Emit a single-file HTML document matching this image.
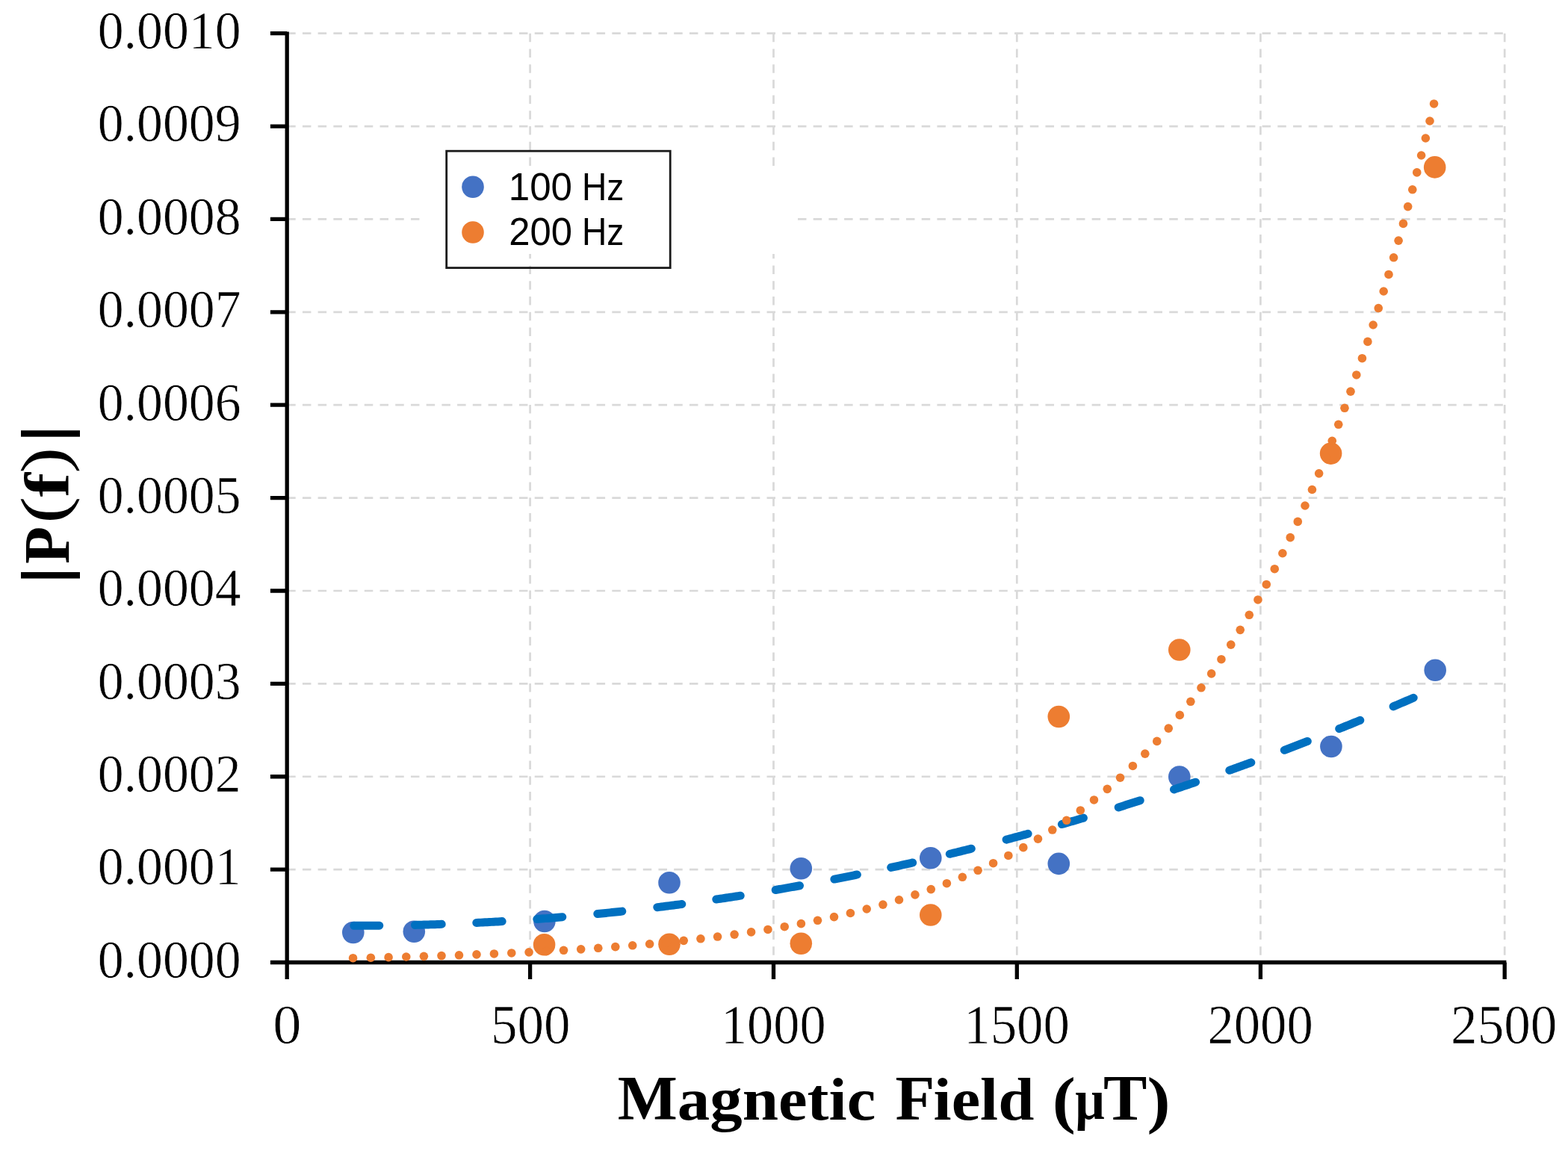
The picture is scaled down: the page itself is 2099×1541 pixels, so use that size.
<!DOCTYPE html><html><head><meta charset="utf-8"><title>Magnetic Field chart</title><style>html,body{margin:0;padding:0;background:#fff;}body{width:2099px;height:1541px;overflow:hidden;}svg{display:block;}.thin{stroke:#fff;stroke-width:0.7px;}</style></head><body>
<svg width="2099" height="1541" viewBox="0 0 2099 1541">
<rect x="0" y="0" width="2099" height="1541" fill="#fff"/>
<path d="M384.20 1164.12H2014.20 M384.20 1039.74H2014.20 M384.20 915.36H2014.20 M384.20 790.98H2014.20 M384.20 666.60H2014.20 M384.20 542.22H2014.20 M384.20 417.84H2014.20 M384.20 293.46H2014.20 M384.20 169.08H2014.20 M384.20 44.70H2014.20" stroke="#d9d9d9" stroke-width="2.7" stroke-dasharray="11.5 9.22" fill="none"/>
<path d="M709.60 44.70V1288.50 M1035.50 44.70V1288.50 M1361.30 44.70V1288.50 M1687.40 44.70V1288.50 M2014.20 44.70V1288.50" stroke="#d9d9d9" stroke-width="2.7" stroke-dasharray="11.5 9.22" fill="none"/>
<rect x="566" y="224" width="502" height="116" fill="#fff"/>
<path d="M384.20 42.50V1311.00M361.90 1288.50H2016.40" stroke="#000" stroke-width="5.3" fill="none"/>
<path d="M361.90 1164.12H384.20 M361.90 1039.74H384.20 M361.90 915.36H384.20 M361.90 790.98H384.20 M361.90 666.60H384.20 M361.90 542.22H384.20 M361.90 417.84H384.20 M361.90 293.46H384.20 M361.90 169.08H384.20 M361.90 44.70H384.20 M709.60 1288.50V1311.00 M1035.50 1288.50V1311.00 M1361.30 1288.50V1311.00 M1687.40 1288.50V1311.00 M2014.20 1288.50V1311.00" stroke="#000" stroke-width="5.3" fill="none"/>
<circle cx="472.8" cy="1248.5" r="14.8" fill="#4472c4"/>
<circle cx="554.3" cy="1247.3" r="14.8" fill="#4472c4"/>
<circle cx="728.9" cy="1233.5" r="14.8" fill="#4472c4"/>
<circle cx="896.0" cy="1181.7" r="14.8" fill="#4472c4"/>
<circle cx="1072.3" cy="1162.7" r="14.8" fill="#4472c4"/>
<circle cx="1245.8" cy="1148.7" r="14.8" fill="#4472c4"/>
<circle cx="1417.3" cy="1156.4" r="14.8" fill="#4472c4"/>
<circle cx="1578.8" cy="1040.0" r="14.8" fill="#4472c4"/>
<circle cx="1781.9" cy="999.5" r="14.8" fill="#4472c4"/>
<circle cx="1921.2" cy="897.2" r="14.8" fill="#4472c4"/>
<circle cx="728.6" cy="1264.8" r="14.8" fill="#ed7d31"/>
<circle cx="896.0" cy="1264.3" r="14.8" fill="#ed7d31"/>
<circle cx="1072.3" cy="1263.3" r="14.8" fill="#ed7d31"/>
<circle cx="1245.8" cy="1225.0" r="14.8" fill="#ed7d31"/>
<circle cx="1417.3" cy="959.5" r="14.8" fill="#ed7d31"/>
<circle cx="1578.8" cy="870.0" r="14.8" fill="#ed7d31"/>
<circle cx="1781.6" cy="607.1" r="14.8" fill="#ed7d31"/>
<circle cx="1920.7" cy="223.9" r="14.8" fill="#ed7d31"/>
<path d="M473.80 1239.29 L476.63 1239.30 L479.47 1239.30 L482.30 1239.29 L485.13 1239.29 L487.97 1239.28 L490.80 1239.27 L493.63 1239.26 L496.47 1239.25 L499.30 1239.23 L502.13 1239.21 L504.97 1239.19 L507.80 1239.16 M555.50 1238.39 L558.48 1238.31 L561.45 1238.24 L564.42 1238.16 L567.40 1238.08 L570.38 1238.00 L573.35 1237.92 L576.33 1237.83 L579.30 1237.74 L582.28 1237.65 L585.25 1237.55 L588.23 1237.45 L591.20 1237.35 M637.80 1235.41 L640.67 1235.27 L643.53 1235.13 L646.40 1234.98 L649.27 1234.83 L652.13 1234.68 L655.00 1234.53 L657.87 1234.37 L660.73 1234.22 L663.60 1234.06 L666.47 1233.89 L669.33 1233.73 L672.20 1233.56 M718.80 1230.47 L721.63 1230.26 L724.47 1230.05 L727.30 1229.83 L730.13 1229.62 L732.97 1229.40 L735.80 1229.18 L738.63 1228.95 L741.47 1228.73 L744.30 1228.50 L747.13 1228.27 L749.97 1228.03 L752.80 1227.80 M799.80 1223.52 L802.55 1223.25 L805.30 1222.98 L808.05 1222.70 L810.80 1222.42 L813.55 1222.14 L816.30 1221.86 L819.05 1221.58 L821.80 1221.29 L824.55 1221.00 L827.30 1220.71 L830.05 1220.41 L832.80 1220.12 M879.80 1214.70 L882.55 1214.36 L885.30 1214.02 L888.05 1213.68 L890.80 1213.33 L893.55 1212.98 L896.30 1212.63 L899.05 1212.28 L901.80 1211.93 L904.55 1211.57 L907.30 1211.21 L910.05 1210.85 L912.80 1210.49 M958.80 1204.06 L961.50 1203.67 L964.20 1203.27 L966.90 1202.87 L969.60 1202.46 L972.30 1202.06 L975.00 1201.65 L977.70 1201.24 L980.40 1200.83 L983.10 1200.41 L985.80 1199.99 L988.50 1199.58 L991.20 1199.15 M1038.20 1191.46 L1040.89 1191.00 L1043.58 1190.54 L1046.28 1190.07 L1048.97 1189.60 L1051.66 1189.13 L1054.35 1188.66 L1057.04 1188.19 L1059.73 1187.71 L1062.42 1187.23 L1065.12 1186.75 L1067.81 1186.27 L1070.50 1185.78 M1116.90 1177.07 L1119.44 1176.57 L1121.98 1176.07 L1124.53 1175.57 L1127.07 1175.07 L1129.61 1174.57 L1132.15 1174.06 L1134.69 1173.55 L1137.23 1173.04 L1139.78 1172.53 L1142.32 1172.02 L1144.86 1171.50 L1147.40 1170.98 M1192.70 1161.42 L1195.12 1160.89 L1197.53 1160.36 L1199.95 1159.83 L1202.37 1159.30 L1204.78 1158.76 L1207.20 1158.23 L1209.62 1157.69 L1212.03 1157.15 L1214.45 1156.61 L1216.87 1156.06 L1219.28 1155.52 L1221.70 1154.97 M1271.30 1143.34 L1273.72 1142.76 L1276.13 1142.17 L1278.55 1141.58 L1280.97 1140.99 L1283.38 1140.40 L1285.80 1139.80 L1288.22 1139.21 L1290.63 1138.61 L1293.05 1138.01 L1295.47 1137.41 L1297.88 1136.80 L1300.30 1136.20 M1347.10 1124.12 L1349.52 1123.48 L1351.93 1122.84 L1354.35 1122.19 L1356.77 1121.55 L1359.18 1120.90 L1361.60 1120.25 L1364.02 1119.60 L1366.43 1118.94 L1368.85 1118.29 L1371.27 1117.63 L1373.68 1116.97 L1376.10 1116.31 M1421.40 1103.58 L1423.82 1102.89 L1426.23 1102.19 L1428.65 1101.49 L1431.07 1100.79 L1433.48 1100.08 L1435.90 1099.38 L1438.32 1098.67 L1440.73 1097.96 L1443.15 1097.25 L1445.57 1096.54 L1447.98 1095.83 L1450.40 1095.11 M1497.20 1080.89 L1499.62 1080.14 L1502.03 1079.39 L1504.45 1078.63 L1506.87 1077.87 L1509.28 1077.11 L1511.70 1076.35 L1514.12 1075.59 L1516.53 1074.83 L1518.95 1074.06 L1521.37 1073.29 L1523.78 1072.52 L1526.20 1071.75 M1571.50 1056.95 L1573.92 1056.14 L1576.33 1055.33 L1578.75 1054.52 L1581.17 1053.71 L1583.58 1052.90 L1586.00 1052.08 L1588.42 1051.26 L1590.83 1050.44 L1593.25 1049.62 L1595.67 1048.80 L1598.08 1047.98 L1600.50 1047.15 M1645.80 1031.32 L1648.22 1030.46 L1650.63 1029.60 L1653.05 1028.73 L1655.47 1027.87 L1657.88 1027.00 L1660.30 1026.13 L1662.72 1025.25 L1665.13 1024.38 L1667.55 1023.50 L1669.97 1022.62 L1672.38 1021.74 L1674.80 1020.86 M1719.30 1004.31 L1721.88 1003.33 L1724.47 1002.35 L1727.05 1001.37 L1729.63 1000.38 L1732.22 999.40 L1734.80 998.41 L1737.38 997.42 L1739.97 996.42 L1742.55 995.43 L1745.13 994.43 L1747.72 993.43 L1750.30 992.43 M1792.70 975.70 L1795.04 974.76 L1797.38 973.82 L1799.72 972.87 L1802.07 971.93 L1804.41 970.98 L1806.75 970.03 L1809.09 969.08 L1811.43 968.13 L1813.78 967.18 L1816.12 966.22 L1818.46 965.26 L1820.80 964.31 M1865.10 945.86 L1867.36 944.90 L1869.62 943.94 L1871.88 942.98 L1874.13 942.02 L1876.39 941.06 L1878.65 940.10 L1880.91 939.13 L1883.17 938.16 L1885.42 937.19 L1887.68 936.22 L1889.94 935.25 L1892.20 934.28" stroke="#0070c0" stroke-width="11.0" stroke-linecap="round" stroke-linejoin="round" fill="none"/>
<g fill="#ed7d31"><circle cx="472.56" cy="1282.72" r="5.8"/><circle cx="496.35" cy="1282.20" r="5.8"/><circle cx="520.09" cy="1281.63" r="5.8"/><circle cx="543.78" cy="1281.00" r="5.8"/><circle cx="567.41" cy="1280.33" r="5.8"/><circle cx="590.99" cy="1279.59" r="5.8"/><circle cx="614.51" cy="1278.79" r="5.8"/><circle cx="637.99" cy="1277.92" r="5.8"/><circle cx="661.41" cy="1276.97" r="5.8"/><circle cx="684.77" cy="1275.94" r="5.8"/><circle cx="708.08" cy="1274.83" r="5.8"/><circle cx="731.34" cy="1273.61" r="5.8"/><circle cx="754.53" cy="1272.29" r="5.8"/><circle cx="777.67" cy="1270.86" r="5.8"/><circle cx="800.76" cy="1269.31" r="5.8"/><circle cx="823.78" cy="1267.62" r="5.8"/><circle cx="846.74" cy="1265.79" r="5.8"/><circle cx="869.64" cy="1263.81" r="5.8"/><circle cx="892.47" cy="1261.66" r="5.8"/><circle cx="915.24" cy="1259.33" r="5.8"/><circle cx="937.93" cy="1256.80" r="5.8"/><circle cx="960.56" cy="1254.07" r="5.8"/><circle cx="983.10" cy="1251.11" r="5.8"/><circle cx="1005.56" cy="1247.91" r="5.8"/><circle cx="1027.93" cy="1244.44" r="5.8"/><circle cx="1050.21" cy="1240.70" r="5.8"/><circle cx="1072.40" cy="1236.66" r="5.8"/><circle cx="1094.51" cy="1232.29" r="5.8"/><circle cx="1116.52" cy="1227.58" r="5.8"/><circle cx="1138.43" cy="1222.50" r="5.8"/><circle cx="1160.24" cy="1217.02" r="5.8"/><circle cx="1181.94" cy="1211.11" r="5.8"/><circle cx="1203.51" cy="1204.76" r="5.8"/><circle cx="1224.96" cy="1197.92" r="5.8"/><circle cx="1246.26" cy="1190.58" r="5.8"/><circle cx="1267.39" cy="1182.71" r="5.8"/><circle cx="1288.34" cy="1174.29" r="5.8"/><circle cx="1309.08" cy="1165.28" r="5.8"/><circle cx="1329.59" cy="1155.68" r="5.8"/><circle cx="1349.85" cy="1145.47" r="5.8"/><circle cx="1369.81" cy="1134.63" r="5.8"/><circle cx="1389.47" cy="1123.16" r="5.8"/><circle cx="1408.78" cy="1111.05" r="5.8"/><circle cx="1427.74" cy="1098.31" r="5.8"/><circle cx="1446.31" cy="1084.94" r="5.8"/><circle cx="1464.48" cy="1070.95" r="5.8"/><circle cx="1482.23" cy="1056.36" r="5.8"/><circle cx="1499.54" cy="1041.18" r="5.8"/><circle cx="1516.41" cy="1025.44" r="5.8"/><circle cx="1532.82" cy="1009.17" r="5.8"/><circle cx="1548.76" cy="992.39" r="5.8"/><circle cx="1564.25" cy="975.13" r="5.8"/><circle cx="1579.28" cy="957.42" r="5.8"/><circle cx="1593.85" cy="939.30" r="5.8"/><circle cx="1607.97" cy="920.78" r="5.8"/><circle cx="1621.66" cy="901.90" r="5.8"/><circle cx="1634.92" cy="882.68" r="5.8"/><circle cx="1647.76" cy="863.16" r="5.8"/><circle cx="1660.21" cy="843.35" r="5.8"/><circle cx="1672.26" cy="823.28" r="5.8"/><circle cx="1683.95" cy="802.96" r="5.8"/><circle cx="1695.27" cy="782.43" r="5.8"/><circle cx="1706.25" cy="761.69" r="5.8"/><circle cx="1716.90" cy="740.76" r="5.8"/><circle cx="1727.23" cy="719.66" r="5.8"/><circle cx="1737.26" cy="698.41" r="5.8"/><circle cx="1746.99" cy="677.02" r="5.8"/><circle cx="1756.45" cy="655.49" r="5.8"/><circle cx="1765.64" cy="633.85" r="5.8"/><circle cx="1774.58" cy="612.10" r="5.8"/><circle cx="1783.27" cy="590.25" r="5.8"/><circle cx="1791.73" cy="568.31" r="5.8"/><circle cx="1799.96" cy="546.28" r="5.8"/><circle cx="1807.99" cy="524.16" r="5.8"/><circle cx="1815.81" cy="501.97" r="5.8"/><circle cx="1823.44" cy="479.71" r="5.8"/><circle cx="1830.88" cy="457.38" r="5.8"/><circle cx="1838.15" cy="434.99" r="5.8"/><circle cx="1845.25" cy="412.53" r="5.8"/><circle cx="1852.19" cy="390.01" r="5.8"/><circle cx="1858.97" cy="367.44" r="5.8"/><circle cx="1865.61" cy="344.81" r="5.8"/><circle cx="1872.10" cy="322.13" r="5.8"/><circle cx="1878.46" cy="299.39" r="5.8"/><circle cx="1884.68" cy="276.61" r="5.8"/><circle cx="1890.78" cy="253.78" r="5.8"/><circle cx="1896.76" cy="230.91" r="5.8"/><circle cx="1902.62" cy="207.99" r="5.8"/><circle cx="1908.37" cy="185.02" r="5.8"/><circle cx="1914.01" cy="162.01" r="5.8"/><circle cx="1919.55" cy="138.95" r="5.8"/></g>
<rect x="597.7" y="202.2" width="299.5" height="156.4" fill="none" stroke="#1a1a1a" stroke-width="2.8"/>
<circle cx="633" cy="250.3" r="14.8" fill="#4472c4"/>
<circle cx="633" cy="311" r="14.8" fill="#ed7d31"/>
<text transform="translate(680.71 267.90) scale(0.9928 1)" font-family="'Liberation Sans', sans-serif" font-size="51.50">100</text>
<text transform="translate(779.02 267.90) scale(0.8961 1)" font-family="'Liberation Sans', sans-serif" font-size="51.50">Hz</text>
<text transform="translate(681.26 327.70) scale(0.9862 1)" font-family="'Liberation Sans', sans-serif" font-size="51.50">200</text>
<text transform="translate(779.02 327.70) scale(0.8961 1)" font-family="'Liberation Sans', sans-serif" font-size="51.50">Hz</text>
<text transform="translate(130.65 1308.80) scale(0.9591 1)" font-family="'Liberation Serif', serif" font-size="72.8" class="thin">0.0000</text>
<text transform="translate(130.65 1184.42) scale(0.9591 1)" font-family="'Liberation Serif', serif" font-size="72.8" class="thin">0.0001</text>
<text transform="translate(130.65 1060.04) scale(0.9591 1)" font-family="'Liberation Serif', serif" font-size="72.8" class="thin">0.0002</text>
<text transform="translate(130.65 935.66) scale(0.9591 1)" font-family="'Liberation Serif', serif" font-size="72.8" class="thin">0.0003</text>
<text transform="translate(130.65 811.28) scale(0.9591 1)" font-family="'Liberation Serif', serif" font-size="72.8" class="thin">0.0004</text>
<text transform="translate(130.65 686.90) scale(0.9591 1)" font-family="'Liberation Serif', serif" font-size="72.8" class="thin">0.0005</text>
<text transform="translate(130.65 562.52) scale(0.9591 1)" font-family="'Liberation Serif', serif" font-size="72.8" class="thin">0.0006</text>
<text transform="translate(130.65 438.14) scale(0.9591 1)" font-family="'Liberation Serif', serif" font-size="72.8" class="thin">0.0007</text>
<text transform="translate(130.65 313.76) scale(0.9591 1)" font-family="'Liberation Serif', serif" font-size="72.8" class="thin">0.0008</text>
<text transform="translate(130.65 189.38) scale(0.9591 1)" font-family="'Liberation Serif', serif" font-size="72.8" class="thin">0.0009</text>
<text transform="translate(130.65 65.00) scale(0.9591 1)" font-family="'Liberation Serif', serif" font-size="72.8" class="thin">0.0010</text>
<text class="thin" transform="translate(365.30 1396.60) scale(1.0425 1)" font-family="'Liberation Serif', serif" font-size="73.30">0</text>
<text class="thin" transform="translate(656.88 1396.60) scale(0.9688 1)" font-family="'Liberation Serif', serif" font-size="73.30">500</text>
<text class="thin" transform="translate(964.91 1396.60) scale(0.9602 1)" font-family="'Liberation Serif', serif" font-size="73.30">1000</text>
<text class="thin" transform="translate(1290.15 1396.60) scale(0.9682 1)" font-family="'Liberation Serif', serif" font-size="73.30">1500</text>
<text class="thin" transform="translate(1616.39 1396.60) scale(0.9652 1)" font-family="'Liberation Serif', serif" font-size="73.30">2000</text>
<text class="thin" transform="translate(1942.07 1396.60) scale(0.9716 1)" font-family="'Liberation Serif', serif" font-size="73.30">2500</text>
<text transform="translate(826.66 1498.50) scale(1.0042 1)" font-family="'Liberation Serif', serif" font-weight="bold" font-size="84.50">M</text>
<text transform="translate(906.82 1498.50) scale(1.0861 1)" font-family="'Liberation Serif', serif" font-weight="bold" font-size="80.00">agnetic</text>
<text transform="translate(1198.53 1498.50) scale(1.0230 1)" font-family="'Liberation Serif', serif" font-weight="bold" font-size="84.50">F</text>
<text transform="translate(1249.59 1498.50) scale(1.0826 1)" font-family="'Liberation Serif', serif" font-weight="bold" font-size="80.00">ield</text>
<text transform="translate(1408.79 1500.98) scale(1.1159 1)" font-family="'Liberation Serif', serif" font-weight="bold" font-size="83.68">(</text>
<text transform="translate(1439.12 1498.30) scale(0.9147 1)" font-family="'Liberation Serif', serif" font-weight="bold" font-size="76.04">µ</text>
<text transform="translate(1477.10 1498.60) scale(0.9976 1)" font-family="'Liberation Serif', serif" font-weight="bold" font-size="87.79">T</text>
<text transform="translate(1535.51 1500.98) scale(1.1159 1)" font-family="'Liberation Serif', serif" font-weight="bold" font-size="83.68">)</text>
<text transform="translate(88.13 783.60) rotate(-90) scale(1.2000 0.8736)" font-family="'Liberation Serif', serif" font-weight="bold" font-size="100.0">|</text>
<text transform="translate(92.00 754.89) rotate(-90) scale(0.8198 0.8763)" font-family="'Liberation Serif', serif" font-weight="bold" font-size="100.0">P</text>
<text transform="translate(92.00 665.59) rotate(-90) scale(0.9792 0.8523)" font-family="'Liberation Serif', serif" font-weight="bold" font-size="100.0">f</text>
<text transform="translate(88.13 593.70) rotate(-90) scale(1.2000 0.8736)" font-family="'Liberation Serif', serif" font-weight="bold" font-size="100.0">|</text>
<text transform="translate(87.68 700.86) rotate(-90) scale(1.0817 0.8743)" font-family="'Liberation Serif', serif" font-size="100.0">(</text>
<text transform="translate(87.68 633.66) rotate(-90) scale(1.0506 0.8743)" font-family="'Liberation Serif', serif" font-size="100.0">)</text>
</svg></body></html>
